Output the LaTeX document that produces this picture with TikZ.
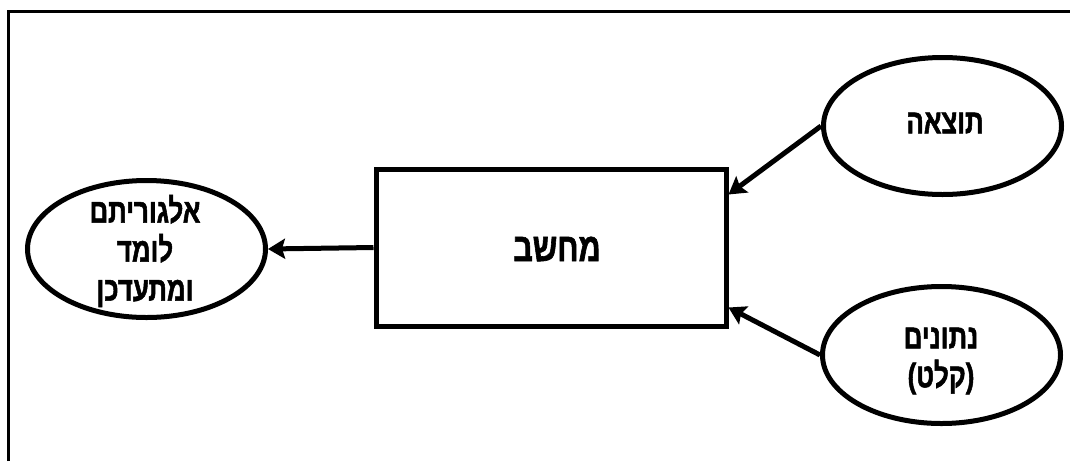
\documentclass[tikz,border=0pt]{standalone}
\usepackage{fontspec}
\setmainfont{Liberation Sans}
\newfontfamily\hebfont[Script=Hebrew,FakeStretch=0.76,FakeBold=1.5]{Liberation Sans}
\TeXXeTstate=1
\usetikzlibrary{shapes.geometric,arrows.meta}
\begin{document}
\begin{tikzpicture}[x=1pt,y=-1pt,
  box/.style={draw, line width=5pt, minimum width=350pt, minimum height=157pt, inner sep=0pt},
  oval/.style={draw, ellipse, line width=5pt, inner sep=0pt, minimum width=238pt, minimum height=137pt},
  lbl/.style={font=\hebfont\bfseries\fontsize{34}{39}\selectfont, align=center, inner sep=0pt},
  biglbl/.style={font=\hebfont\bfseries\fontsize{40}{45}\selectfont, inner sep=0pt},
  arr/.style={line width=5pt, -{Stealth[length=17pt,width=20pt,inset=3pt]}},
  frame/.style={line width=3.5pt}]
\useasboundingbox (0,0) rectangle (1070,461);
\coordinate (fbl) at (8.5,461);
\coordinate (ftl) at (8.5,11.5);
\coordinate (ftr) at (1070,11.5);
\draw[frame] (fbl) -- (ftl) -- (ftr);

\node[box] (comp) at (551,247.5) {};
\node[biglbl] (compt) at (557,249) {\beginR מחשב\endR};

\node[oval] (alg) at (146.5,249) {};
\node[lbl] (algt) at (145,251) {\beginR אלגוריתם\endR\\\beginR לומד\endR\\\beginR ומתעדכן\endR};

\node[oval] (res) at (942.5,126) {};
\node[lbl] (rest) at (945,123) {\beginR תוצאה\endR};

\node[oval] (data) at (941.5,355) {};
\node[lbl] (datat) at (941,361) {\beginR נתונים\endR\\\beginR (קלט)\endR};

\draw[arr] (comp.west) -- (alg.east);
\draw[arr] (res.west) -- ([yshift=53pt]comp.east);
\draw[arr] (data.west) -- ([yshift=-60pt]comp.east);
\end{tikzpicture}
\end{document}
